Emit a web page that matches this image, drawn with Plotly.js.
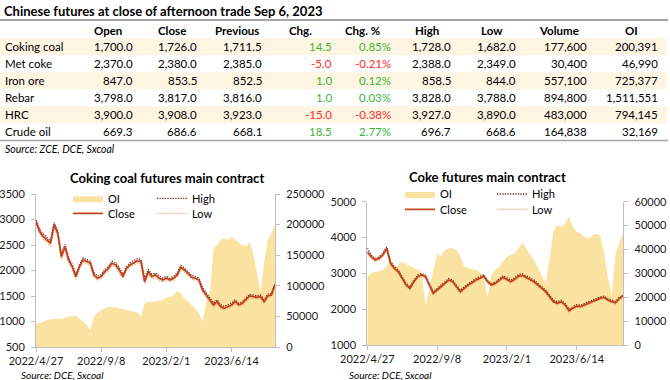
<!DOCTYPE html>
<html><head><meta charset="utf-8">
<script src="https://cdn.plot.ly/plotly-3.0.1.min.js"></script>
<style>html,body{margin:0;padding:0;background:#fff}#chart{width:670px;height:380px}</style>
</head><body><div id="chart"></div>
<script>
// ---------- Table data ----------
const tableTitle = "Chinese futures at close of afternoon trade Sep 6, 2023";
const tableSource = "Source: ZCE, DCE, Sxcoal";
const headers = ["Open","Close","Previous","Chg.","Chg. %","High","Low","Volume","OI"];
const products = ["Coking coal","Met coke","Iron ore","Rebar","HRC","Crude oil"];
const openPx = [1700.0, 2370.0, 847.0, 3798.0, 3900.0, 669.3];
const closePx = [1726.0, 2380.0, 853.5, 3817.0, 3908.0, 686.6];
const prevPx = [1711.5, 2385.0, 852.5, 3816.0, 3923.0, 668.1];
const chg = [14.5, -5.0, 1.0, 1.0, -15.0, 18.5];
const chgPct = [0.85, -0.21, 0.12, 0.03, -0.38, 2.77];
const highPx = [1728.0, 2388.0, 858.5, 3828.0, 3927.0, 696.7];
const lowPx = [1682.0, 2349.0, 844.0, 3788.0, 3890.0, 668.6];
const volume = [177600, 30400, 557100, 894800, 483000, 164838];
const openInt = [200391, 46990, 725377, 1511551, 794145, 32169];

// ---------- Chart data (sampled about weekly, trading-day order) ----------
const dateTicks = ["2022/4/27","2022/9/8","2023/2/1","2023/6/14"];
const tickSample = [0, 18, 36, 54];
const chartSource = "Source: DCE, Sxcoal";
const ccTitle = "Coking coal futures main contract";
const ckTitle = "Coke futures main contract";

const ccClose = [2959,2763,2665,2599,2534,2894,2730,2272,2469,2207,2076,1880,2076,2207,2174,2142,1913,1847,1880,1978,2043,2142,2109,2011,1880,2043,2109,2155,2194,2174,1782,1978,1880,1913,1847,1815,1847,1815,1847,1913,2063,2011,1945,1867,1847,1815,1618,1520,1422,1324,1389,1291,1259,1291,1324,1389,1324,1357,1422,1501,1488,1474,1488,1389,1501,1520,1726];
const ccHigh = [2990,2810,2720,2650,2580,2940,2780,2330,2510,2250,2120,1930,2110,2250,2215,2180,1960,1890,1920,2020,2080,2180,2150,2055,1925,2080,2150,2195,2235,2215,1840,2020,1925,1950,1890,1855,1885,1850,1885,1950,2100,2050,1985,1905,1885,1850,1665,1560,1460,1365,1425,1330,1295,1325,1360,1425,1360,1390,1455,1535,1520,1505,1520,1425,1535,1555,1735];
const ccLow = [2900,2720,2610,2540,2480,2840,2680,2220,2420,2160,2030,1840,2030,2160,2130,2100,1870,1805,1840,1935,2000,2100,2065,1965,1840,2000,2065,2110,2150,2130,1740,1930,1840,1870,1805,1775,1810,1780,1810,1875,2020,1970,1905,1830,1810,1780,1575,1480,1385,1290,1350,1255,1225,1255,1290,1350,1290,1320,1385,1465,1455,1440,1455,1350,1465,1485,1682];
const ccOI = [38700,38700,41400,44100,45200,45200,45700,46300,47900,49600,50600,51700,46800,41400,35900,27800,49600,56100,60500,63200,65900,64800,64800,63200,61500,60500,59400,57700,56600,49600,71300,73000,74100,74100,75200,76800,81100,81100,85000,92000,87700,79500,74100,68600,63200,55000,41400,74100,87700,161000,166600,174800,177500,174800,180300,174800,170500,166600,163900,172100,153000,120000,90000,139000,175000,185700,200391];

const ckClose = [3604,3465,3372,3418,3511,3697,3279,3139,3046,2860,2674,2581,2767,2907,2953,2907,2674,2442,2535,2628,2721,2814,2767,2628,2488,2581,2674,2739,2814,2860,2925,2767,2674,2721,2814,2888,2832,2767,2832,2925,2944,2888,2814,2767,2674,2581,2488,2349,2209,2163,2209,2116,1958,2023,2088,2070,2116,2163,2209,2274,2302,2330,2256,2210,2180,2300,2380];
const ckHigh = [3700,3510,3420,3460,3560,3740,3330,3190,3090,2905,2720,2625,2810,2950,2995,2950,2720,2485,2580,2670,2765,2855,2810,2670,2530,2625,2715,2780,2855,2900,2965,2810,2715,2760,2855,2930,2875,2810,2875,2965,2985,2930,2855,2810,2715,2625,2530,2390,2250,2205,2250,2160,2000,2065,2125,2110,2155,2200,2245,2310,2340,2365,2295,2250,2220,2340,2388];
const ckLow = [3560,3420,3325,3370,3465,3650,3230,3090,3000,2815,2630,2540,2725,2865,2910,2865,2630,2400,2490,2585,2680,2770,2725,2585,2445,2540,2630,2700,2770,2815,2885,2725,2630,2680,2770,2845,2790,2725,2790,2885,2900,2845,2770,2725,2630,2540,2445,2305,2170,2120,2165,2075,1915,1985,2050,2030,2075,2125,2170,2235,2265,2290,2215,2170,2140,2260,2349];
const ckOI = [28600,30000,30700,30700,31400,32800,36300,32100,33500,34900,33900,33100,32500,31700,30700,17000,23000,31400,38400,37000,39800,40500,40500,39800,37000,32800,32100,31700,31400,30700,28600,20000,29300,31400,32800,34900,37000,37700,38400,40500,42800,40500,37700,35600,32100,28600,25800,36300,47400,50200,49500,50900,53700,49500,47400,46700,45300,44600,46000,46700,46000,39100,28600,21000,38000,43000,46990];

// ---------- Helpers ----------
const W = 670, H = 380;
const X = p => p / W;
const Y = p => 1 - p / H;
const FONT = "Lato, 'Open Sans', sans-serif";
const TXT = '#000000';
const GREEN = '#3cb43c', RED = '#ff2d2d';
const fmt1 = v => v.toLocaleString('en-US', {minimumFractionDigits:1, maximumFractionDigits:1});
const fmtInt = v => v.toLocaleString('en-US');
const fmtPct = v => v.toFixed(2) + '%';

const annotations = [];
const shapes = [];
function ann(xp, yp, text, opts) {
  annotations.push(Object.assign({
    xref:'paper', yref:'paper', x:X(xp), y:Y(yp), text:text, showarrow:false,
    xanchor:'left', yanchor:'middle', borderpad:0,
    font:{family:FONT, size:11.5, color:TXT}
  }, opts || {}));
}

// ---------- Table ----------
const colRight = [134,198,263,333,392,452,517,588,659];
const headCenter = [108,172,237,300,362,427,492,559,631];
const headerY = 30, rowY0 = 46.7, rowH = 17;

shapes.push({type:'line', xref:'paper', yref:'paper', x0:0, x1:X(668), y0:Y(20), y1:Y(20), line:{color:'#a6a6a6', width:2}});
for (let r = 0; r < products.length; r += 2) {
  const cy = rowY0 + r*rowH;
  shapes.push({type:'rect', xref:'paper', yref:'paper', x0:0, x1:X(667), y0:Y(cy-8.5), y1:Y(cy+8.5), fillcolor:'#fef5e2', line:{width:0}, layer:'below'});
}
shapes.push({type:'line', xref:'paper', yref:'paper', x0:0, x1:X(668), y0:Y(140.5), y1:Y(140.5), line:{color:'#a6a6a6', width:1.5}});

headers.forEach((h, i) => ann(headCenter[i], headerY, '<b>' + h + '</b>', {xanchor:'center'}));
products.forEach((p, r) => {
  const cy = rowY0 + r*rowH;
  ann(4, cy, p);
  const cells = [fmt1(openPx[r]), fmt1(closePx[r]), fmt1(prevPx[r]), fmt1(chg[r]), fmtPct(chgPct[r]), fmt1(highPx[r]), fmt1(lowPx[r]), fmtInt(volume[r]), fmtInt(openInt[r])];
  cells.forEach((c, i) => {
    let color = TXT;
    if (i === 3 || i === 4) color = chg[r] < 0 ? RED : GREEN;
    ann(colRight[i], cy, c, {xanchor:'right', font:{family:FONT, size:11.5, color:color}});
  });
});
ann(4, 149.5, '<i>' + tableSource + '</i>', {font:{family:FONT, size:10.5, color:TXT}});

// ---------- Charts ----------
ann(167, 178, '<b>' + ccTitle + '</b>', {xanchor:'center', font:{family:FONT, size:13, color:TXT}});
ann(487, 177, '<b>' + ckTitle + '</b>', {xanchor:'center', font:{family:FONT, size:13, color:TXT}});
ann(20, 375, '<i>' + chartSource + '</i>', {font:{family:FONT, size:10, color:TXT}});
ann(348, 375, '<i>' + chartSource + '</i>', {font:{family:FONT, size:10, color:TXT}});

const OI_FILL = '#fae3a0';
const CLOSE_C = '#c0431a', HIGH_C = '#7b2a20', LOW_C = '#f4a77a';
const idx = ccClose.map((_, i) => i);

function series(oi, hi, lo, cl, xa, yOI, yPx, legs) {
  return [
    {x:idx, y:oi, type:'scatter', mode:'lines', fill:'tozeroy', fillcolor:OI_FILL, line:{width:0, color:OI_FILL}, name:'OI', xaxis:xa, yaxis:yOI, legend:legs[0], hoverinfo:'skip'},
    {x:idx, y:hi, type:'scatter', mode:'lines', line:{width:1.3, color:HIGH_C, dash:'1.3px,1.3px'}, name:'High', xaxis:xa, yaxis:yPx, legend:legs[2], hoverinfo:'skip'},
    {x:idx, y:lo, type:'scatter', mode:'lines', line:{width:1.3, color:LOW_C, dash:'1.3px,1.3px'}, name:'Low', xaxis:xa, yaxis:yPx, legend:legs[3], hoverinfo:'skip'},
    {x:idx, y:cl, type:'scatter', mode:'lines', line:{width:1.8, color:CLOSE_C}, name:'Close', xaxis:xa, yaxis:yPx, legend:legs[1], hoverinfo:'skip'}
  ];
}
const data = [].concat(
  series(ccOI, ccHigh, ccLow, ccClose, 'x', 'y', 'y2', ['legend','legend2','legend3','legend4']),
  series(ckOI, ckHigh, ckLow, ckClose, 'x2', 'y3', 'y4', ['legend5','legend6','legend7','legend8'])
);

const AX = '#bfbfbf';
const tickFont = {family:FONT, size:11, color:'#1a1a1a'};
const baseAxis = {showgrid:false, zeroline:false, showline:true, linecolor:AX, linewidth:1, ticks:'outside', ticklen:4, tickcolor:AX, tickfont:tickFont, fixedrange:true};

function legendAt(xp, yp) {
  return {x:X(xp), y:Y(yp), xref:'paper', yref:'paper', xanchor:'left', yanchor:'middle', bgcolor:'rgba(0,0,0,0)', borderwidth:0, font:{family:FONT, size:11, color:TXT}, itemwidth:30};
}

const layout = {
  width:W, height:H, margin:{l:0, r:0, t:0, b:0},
  paper_bgcolor:'#ffffff', plot_bgcolor:'rgba(0,0,0,0)',
  font:{family:FONT, size:11, color:TXT},
  title:{text:'<b>' + tableTitle + '</b>', x:X(4), xref:'paper', xanchor:'left', y:Y(11), yref:'container', yanchor:'middle', font:{family:FONT, size:13, color:TXT}},
  showlegend:true,
  xaxis: Object.assign({}, baseAxis, {domain:[X(36), X(275)], range:[0, idx.length-1], tickvals:tickSample, ticktext:dateTicks, anchor:'y'}),
  yaxis: Object.assign({}, baseAxis, {domain:[Y(347), Y(194)], range:[0,250000], dtick:50000, tickformat:'d', side:'right', anchor:'x', ticklabelstandoff:4}),
  yaxis2: Object.assign({}, baseAxis, {overlaying:'y', side:'left', range:[500,3500], dtick:500, tickformat:'d', anchor:'x', ticklabelstandoff:4}),
  xaxis2: Object.assign({}, baseAxis, {domain:[X(367.3), X(623.3)], range:[0, idx.length-1], tickvals:tickSample, ticktext:dateTicks, anchor:'y3'}),
  yaxis3: Object.assign({}, baseAxis, {domain:[Y(345), Y(201.7)], range:[0,60000], dtick:10000, tickformat:'d', side:'right', anchor:'x2', ticklabelstandoff:4}),
  yaxis4: Object.assign({}, baseAxis, {overlaying:'y3', side:'left', range:[1000,5000], dtick:1000, tickformat:'d', anchor:'x2', ticklabelstandoff:4}),
  legend: legendAt(68, 198.3),
  legend2: legendAt(68, 213.3),
  legend3: legendAt(152, 198.3),
  legend4: legendAt(152, 213.3),
  legend5: legendAt(400, 194),
  legend6: legendAt(400, 209.3),
  legend7: legendAt(492, 194),
  legend8: legendAt(492, 209.3),
  shapes: shapes,
  annotations: annotations
};

Plotly.newPlot('chart', data, layout, {displayModeBar:false, staticPlot:true});
</script>
</body></html>
